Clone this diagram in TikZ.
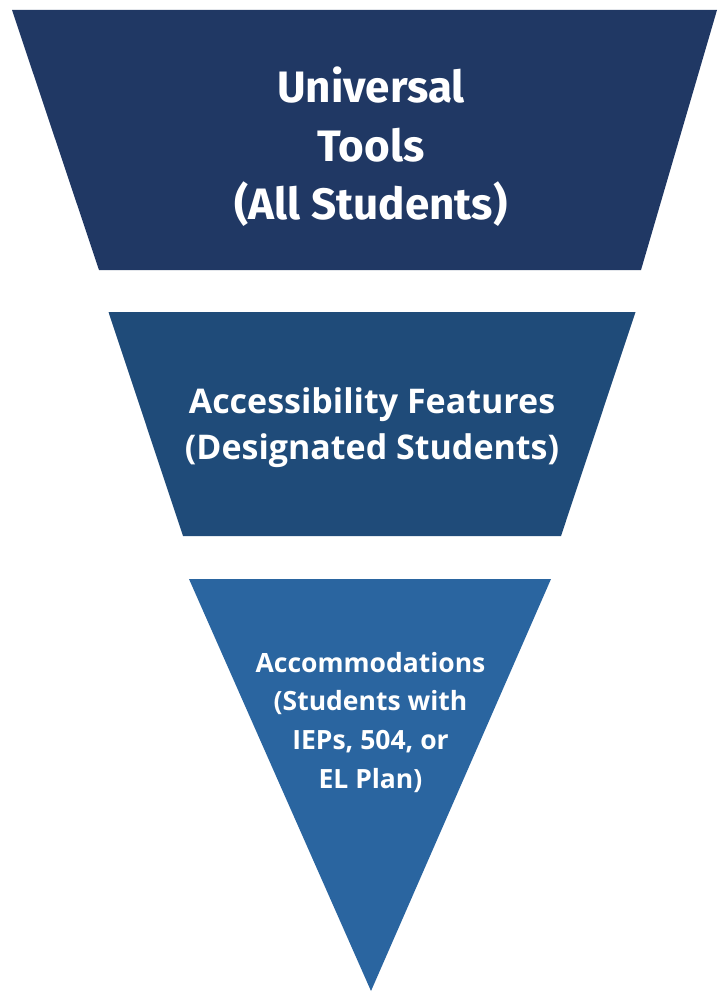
\documentclass[tikz,border=0pt]{standalone}
\usepackage{fontspec}
\newfontfamily\topfont{Fira Sans}
\newfontfamily\midfont{Open Sans}
\definecolor{tierA}{RGB}{32,56,100}
\definecolor{tierB}{RGB}{31,75,121}
\definecolor{tierC}{RGB}{42,101,160}
\tikzset{
  tier/.style={draw=none},
  tiertext/.style={text=white, align=center, anchor=base, inner sep=0pt}
}
\begin{document}
\begin{tikzpicture}[x=1pt,y=-1pt]
\path[fill=white] (0,0) rectangle (717,992);
\useasboundingbox (0,0) rectangle (717,992);
\fill[tierA] (12,10) -- (717,10) -- (641,270) -- (99,270) -- cycle;
\fill[tierB] (108.5,312) -- (635.5,312) -- (561,536) -- (183,536) -- cycle;
\fill[tierC] (189,579) -- (551,579) -- (371,991) -- cycle;
\node[tiertext, font=\topfont\bfseries\fontsize{44}{58.5}\selectfont] (ut) at (371,220) {Universal\\Tools\\(All Students)};
\node[tiertext, font=\midfont\bfseries\fontsize{34}{46}\selectfont] (af) at (372,459) {Accessibility Features\\(Designated Students)};
\node[tiertext, font=\midfont\bfseries\fontsize{26.5}{38.6}\selectfont] (ac) at (370.5,788) {Accommodations\\(Students with\\IEPs, 504, or\\EL Plan)};
\end{tikzpicture}
\end{document}
